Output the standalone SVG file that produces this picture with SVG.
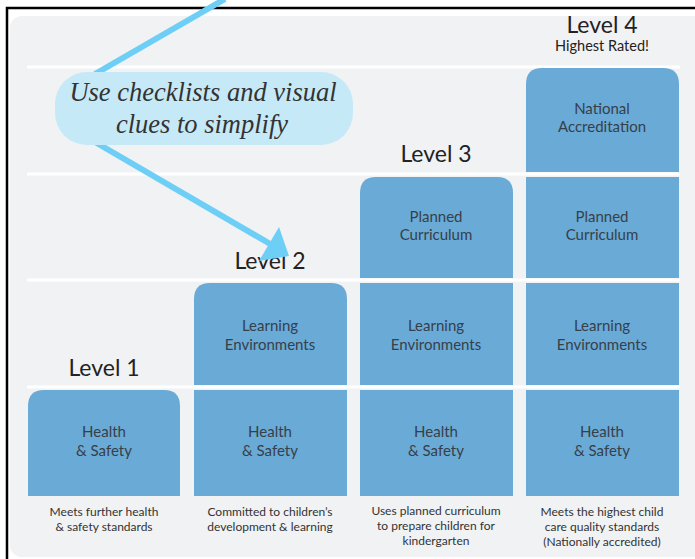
<svg xmlns="http://www.w3.org/2000/svg" width="695" height="559" viewBox="0 0 695 559">
<defs>
<style>
.box{fill:#6aaad6}
.bt{font-family:Lato,"Noto Sans",sans-serif;font-size:15px;fill:#36404a;text-anchor:middle}
.lv{font-family:Lato,"Noto Sans",sans-serif;font-size:23px;fill:#222;text-anchor:middle}
.cap{font-family:Lato,"Noto Sans",sans-serif;font-size:12px;fill:#333;text-anchor:middle}
.sep{stroke:#ffffff;stroke-width:3}
.arr{stroke:#6dcff6;stroke-width:6;fill:none}
.ct{font-family:"Liberation Serif",serif;font-style:italic;font-size:26.5px;fill:#333;text-anchor:middle}
</style>
</defs>
<rect x="0" y="0" width="695" height="559" fill="#ffffff"/>
<path d="M7 559 V8 H695" fill="none" stroke="#000" stroke-width="2.5"/>
<rect x="10" y="16" width="700" height="541" rx="12" fill="#f1f2f4"/>
<g id="gridlines">
<line class="sep" x1="27" y1="67" x2="680" y2="67"/>
<line class="sep" x1="27" y1="174" x2="680" y2="174"/>
<line class="sep" x1="27" y1="280" x2="680" y2="280"/>
<line class="sep" x1="27" y1="387" x2="680" y2="387"/>
</g>
<g id="level1">
<path class="box" d="M28 496 V406 Q28 390 44 390 H164 Q180 390 180 406 V496 Z"/>
<text class="bt" x="104" y="437">Health</text>
<text class="bt" x="104" y="456">&amp; Safety</text>
<text class="lv" x="104" y="376">Level 1</text>
<text class="cap" x="104" y="516">Meets further health</text>
<text class="cap" x="104" y="531">&amp; safety standards</text>
</g>
<g id="level2">
<path class="box" d="M194 385 V299 Q194 283 210 283 H331 Q347 283 347 299 V385 Z"/>
<text class="bt" x="270" y="331">Learning</text>
<text class="bt" x="270" y="350">Environments</text>
<rect class="box" x="194" y="390" width="153" height="106"/>
<text class="bt" x="270" y="437">Health</text>
<text class="bt" x="270" y="456">&amp; Safety</text>
<text class="lv" x="270" y="269">Level 2</text>
<text class="cap" x="270" y="516">Committed to children’s</text>
<text class="cap" x="270" y="531">development &amp; learning</text>
</g>
<g id="level3">
<path class="box" d="M360 278 V193 Q360 177 376 177 H497 Q513 177 513 193 V278 Z"/>
<text class="bt" x="436" y="222">Planned</text>
<text class="bt" x="436" y="240">Curriculum</text>
<rect class="box" x="360" y="283" width="153" height="102"/>
<text class="bt" x="436" y="331">Learning</text>
<text class="bt" x="436" y="350">Environments</text>
<rect class="box" x="360" y="390" width="153" height="106"/>
<text class="bt" x="436" y="437">Health</text>
<text class="bt" x="436" y="456">&amp; Safety</text>
<text class="lv" x="436" y="162">Level 3</text>
<text class="cap" x="436" y="515">Uses planned curriculum</text>
<text class="cap" x="436" y="530">to prepare children for</text>
<text class="cap" x="436" y="545">kindergarten</text>
</g>
<g id="level4">
<path class="box" d="M526 172 V84 Q526 68 542 68 H663 Q679 68 679 84 V172 Z"/>
<text class="bt" x="602" y="114">National</text>
<text class="bt" x="602" y="132">Accreditation</text>
<rect class="box" x="526" y="177" width="153" height="101"/>
<text class="bt" x="602" y="222">Planned</text>
<text class="bt" x="602" y="240">Curriculum</text>
<rect class="box" x="526" y="283" width="153" height="102"/>
<text class="bt" x="602" y="331">Learning</text>
<text class="bt" x="602" y="350">Environments</text>
<rect class="box" x="526" y="390" width="153" height="106"/>
<text class="bt" x="602" y="437">Health</text>
<text class="bt" x="602" y="456">&amp; Safety</text>
<text class="lv" x="602" y="33">Level 4</text>
<text class="bt" x="602" y="51" style="font-size:14.5px;fill:#222">Highest Rated!</text>
<text class="cap" x="602" y="516">Meets the highest child</text>
<text class="cap" x="602" y="531">care quality standards</text>
<text class="cap" x="602" y="546">(Nationally accredited)</text>
</g>
<g id="connectors">
<line class="arr" x1="225" y1="-1" x2="95" y2="74"/>
<line class="arr" x1="95" y1="142" x2="272" y2="245"/>
<polygon points="279,227 289,256 259,261" fill="#6dcff6"/>
</g>
<g id="callout">
<rect x="55" y="72" width="298" height="73" rx="32" fill="#c6e9f8"/>
<text class="ct" x="203" y="101">Use checklists and visual</text>
<text class="ct" x="202" y="133">clues to simplify</text>
</g>
</svg>
